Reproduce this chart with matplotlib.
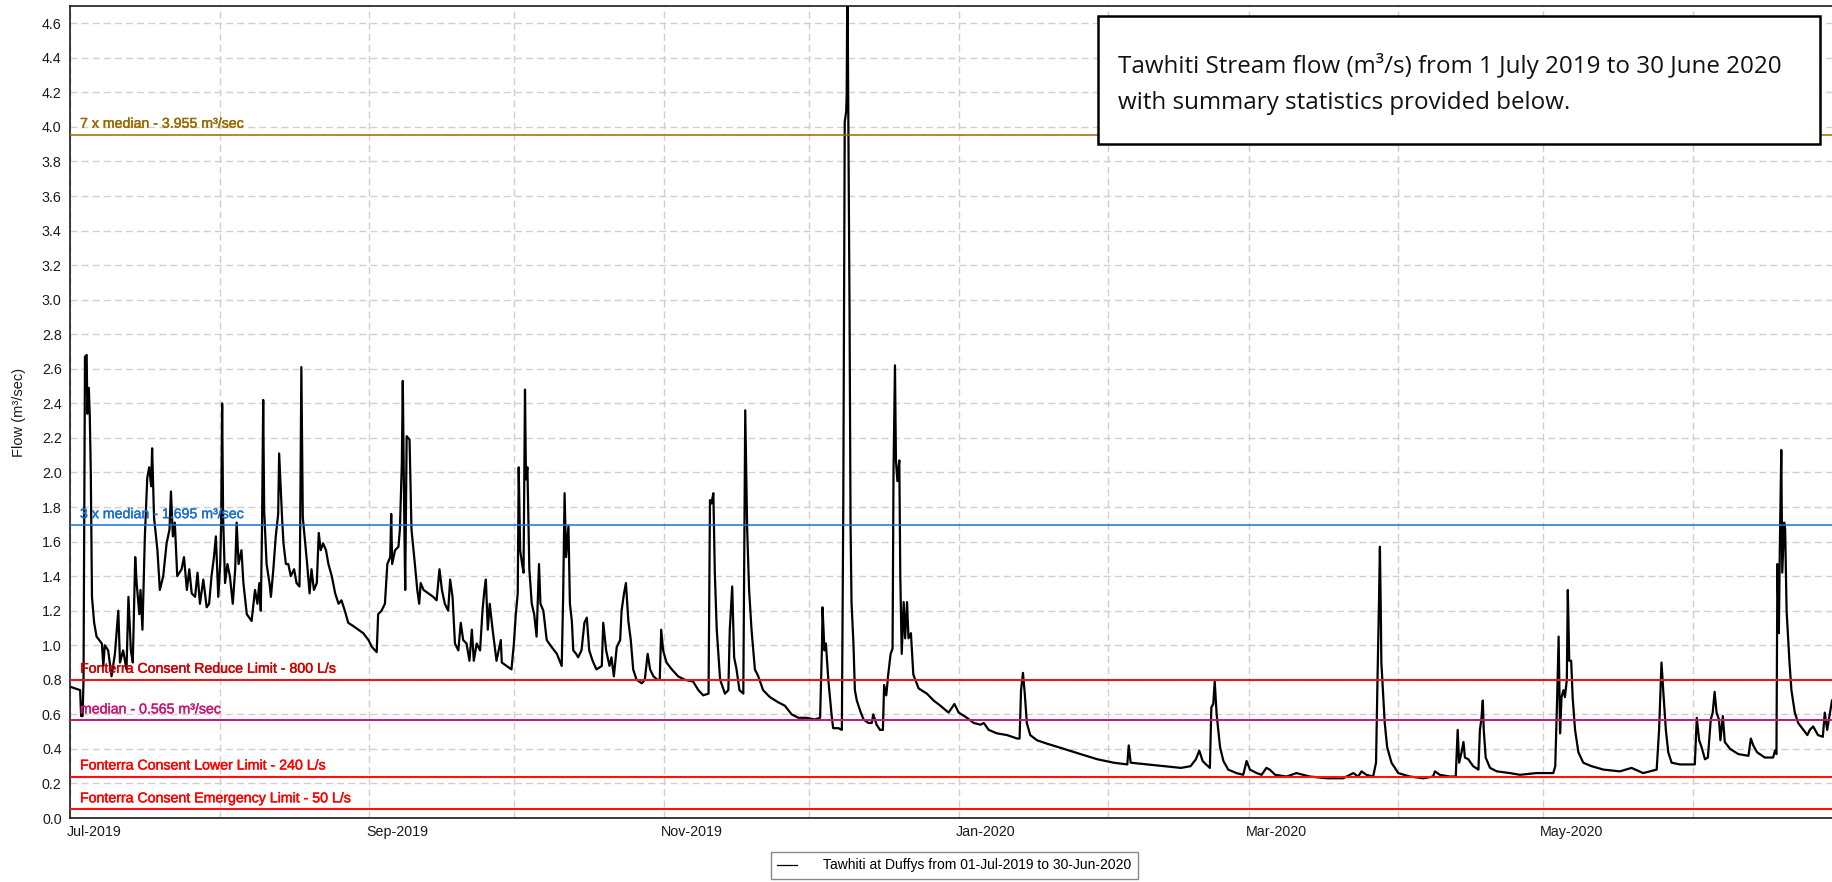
import matplotlib
matplotlib.use("Agg")
import matplotlib.pyplot as plt
import matplotlib.dates as mdates
import matplotlib.transforms as mtransforms
import matplotlib.patheffects as pe
from matplotlib.lines import Line2D
from matplotlib.patches import Rectangle
import pandas as pd
import numpy as np

# ---------------- data ----------------
start_date = "2019-07-01"
# days since 1 July 2019
day_offset = [
    0, 2.1, 2.3, 2.6, 2.8, 3.1, 3.45, 3.6, 3.9, 4.1, 4.3, 4.55, 5.0, 5.5, 6.6, 6.9, 7.2, 7.9, 8.6, 9.3,
    10.0, 10.35, 11.0, 11.7, 12.1, 12.6, 13.0, 13.5, 13.8, 14.35, 14.6, 15.0, 15.5, 16.0, 16.4, 16.8, 17.0,
    17.4, 18.1, 18.6, 19.3, 20.0, 20.6, 20.9, 21.3, 21.7, 22.2, 23.1, 23.6, 24.2, 24.7, 25.2, 25.9, 26.4,
    26.9, 27.6, 28.3, 28.8, 29.3, 29.8, 30.2, 30.7, 31.1, 31.3, 31.5, 31.7, 32.1, 32.6, 33.1, 33.7, 34.2,
    34.5, 34.9, 35.5, 35.9, 36.6, 37.6, 38.3, 38.8, 39.2, 39.5, 39.75, 40.0, 40.2, 40.7, 41.3, 41.6, 42.1,
    42.6, 43.1, 43.3, 43.6, 43.9, 44.2, 44.7, 45.2, 45.7, 46.4, 46.9, 47.5, 47.6, 47.9, 48.2, 48.7, 49.1,
    49.6, 50.0, 50.5, 51.1, 51.5, 51.9, 52.4, 53.0, 53.5, 54.2, 54.9, 55.6, 56.2, 56.9, 57.6, 58.7, 59.7,
    60.7, 61.8, 62.5, 63.5, 63.8, 64.5, 65.2, 65.7, 66.3, 66.5, 66.7, 67.3, 68.0, 68.3, 68.7, 68.9, 69.2,
    69.4, 69.7, 70.3, 70.7, 71.4, 71.9, 72.3, 72.6, 73.2, 74.2, 75.2, 75.9, 76.5, 77.0, 77.6, 78.3, 78.7,
    79.2, 79.7, 80.4,
    80.9, 81.4, 82.1, 82.7, 83.2, 83.6, 84.2, 84.9, 85.4, 85.8, 86.1, 86.5, 86.9, 87.5, 88.3, 89.2, 89.4,
    90.4, 91.4, 91.9, 92.3, 92.7, 92.9, 93.2, 93.6, 93.9, 94.2, 94.4, 94.7, 95.1, 95.6, 96.1, 96.6, 97.1,
    97.4, 98.0, 98.7, 99.7, 100.8, 101.8, 102.1, 102.4, 102.7, 103.2, 103.5, 103.9, 104.2, 104.8, 105.2,
    105.9, 106.5, 107.0, 107.5, 108.2, 109.0, 110.1, 110.4, 111.0, 111.7, 112.1, 112.6, 113.2, 113.9,
    114.2, 114.7, 115.1, 115.6, 116.1, 116.6, 117.3, 118.4, 119.0, 119.6, 120.1, 120.8, 121.6, 122.1,
    122.4, 122.8, 123.5, 124.6, 125.9, 127.3, 129.0, 130.1, 131.1, 132.2, 132.5, 132.8, 133.2, 133.5,
    133.9, 134.6, 135.6, 136.3, 136.6, 137.1, 137.5, 138.0, 138.6, 139.4, 139.8, 140.2, 140.6, 141.1,
    141.8, 142.5, 143.5, 144.9, 146.6, 148.0, 149.4, 150.8, 152.5, 154.2, 155.3, 155.7, 155.8, 156.2,
    156.5, 157.0, 157.7,
    158.0, 159.1, 159.8, 160.1, 160.4, 160.7, 160.8, 160.95, 161.2, 161.4, 161.6, 161.8, 162.2, 162.5,
    162.9, 163.6, 164.3, 165.3, 166.0, 166.3, 167.0, 167.7, 168.3, 168.55, 169.0, 169.4, 169.9, 170.3,
    170.5, 170.8, 171.0, 171.3, 171.7, 171.9, 172.2, 172.6, 172.9, 173.3, 173.6, 174.1, 174.6, 175.7,
    177.4, 178.8, 180.2, 181.9, 183.1, 184.0, 185.7, 187.1, 188.5, 189.2, 190.2, 191.9, 194.0, 196.1,
    196.6, 196.9, 197.3, 197.7, 198.1, 198.8, 200.2, 202.3, 205.8, 209.2, 212.7, 216.1, 218.9, 219.2,
    219.6, 223.0, 226.5, 230.0, 232.0, 233.1, 233.8, 234.5, 235.2, 236.0,
    236.3, 236.7, 237.0, 237.4, 238.1, 238.8, 239.8, 241.5, 242.9, 243.6, 244.3, 245.7, 246.7, 247.7,
    248.4, 249.5, 251.9, 253.9, 256.7, 260.2, 263.6, 265.7, 266.7, 267.4, 268.4, 269.8, 270.4, 270.7,
    271.0, 271.2, 271.4, 271.5, 271.9, 272.2, 272.7, 273.6, 275.0, 277.4, 280.2, 282.2, 282.6, 283.6,
    285.7, 286.9, 287.3, 287.6, 288.1, 288.5, 288.8, 289.5, 290.5, 291.6, 291.9, 292.2, 292.5, 292.7,
    293.1, 294.0, 295.4, 298.1,
    300.2, 303.6, 307.1, 307.5, 307.9, 308.2, 308.5, 308.8, 309.2, 309.5, 309.9, 310.1, 310.4, 310.8,
    311.1, 311.6, 312.3, 313.3, 315.0, 317.5, 320.9, 323.3, 325.7, 328.5, 329.0, 329.5, 329.9, 330.4,
    330.9, 331.6, 333.3, 336.4, 336.8, 337.3, 337.8, 338.5, 339.1, 339.7, 340.1, 340.5, 340.9, 341.4,
    341.7, 342.2, 342.6, 343.7, 345.4, 347.5, 348.0, 348.5, 349.3, 350.9, 352.6, 353.0, 353.3, 353.5,
    353.8, 354.0, 354.3, 354.5, 354.9, 355.1, 355.4, 356.0, 356.4, 357.1, 357.8, 358.9, 359.7, 360.2,
    360.9, 361.9, 362.9, 363.3, 363.8, 364.4, 364.8,
]
flow = [
    0.76, 0.74, 0.59, 0.59, 0.80, 2.67, 2.68, 2.34, 2.49, 2.32, 2.01, 1.28, 1.13, 1.05, 1.01, 0.88, 1.00, 0.97, 0.82, 0.95,
    1.20, 0.90, 0.97, 0.86, 1.28, 0.97, 0.90, 1.51, 1.36, 1.18, 1.32, 1.09, 1.63, 1.97, 2.03, 1.92, 2.14,
    1.74, 1.55, 1.32, 1.40, 1.59, 1.67, 1.89, 1.63, 1.71, 1.40, 1.44, 1.51, 1.32, 1.44, 1.30, 1.28, 1.42,
    1.24, 1.38, 1.22, 1.24, 1.40, 1.51, 1.63, 1.28, 1.47, 1.71, 2.40, 1.74, 1.36, 1.47, 1.40, 1.24, 1.44,
    1.71, 1.47, 1.55, 1.36, 1.18, 1.14, 1.32, 1.24, 1.36, 1.20, 1.67, 2.42, 1.78, 1.47, 1.36, 1.28, 1.44,
    1.63, 1.76, 2.11, 1.92, 1.74, 1.59, 1.47, 1.47, 1.40, 1.44, 1.36, 1.34, 1.47, 2.61, 1.74, 1.59, 1.47,
    1.30, 1.44, 1.32, 1.36, 1.65, 1.55, 1.59, 1.55, 1.47, 1.40, 1.30, 1.24, 1.26, 1.20, 1.13, 1.11, 1.09,
    1.07, 1.03, 0.99, 0.96, 1.18, 1.20, 1.24, 1.47, 1.51, 1.76, 1.47, 1.55, 1.57, 1.67, 2.05, 2.53, 1.74,
    1.32, 2.21, 2.19, 1.67, 1.47, 1.32, 1.24, 1.36, 1.32, 1.30, 1.28, 1.26, 1.44, 1.32, 1.24, 1.20, 1.38,
    1.28, 1.01, 0.97,
    1.13, 1.03, 1.01, 0.91, 1.09, 0.91, 1.01, 0.97, 1.20, 1.32, 1.38, 1.09, 1.24, 1.09, 0.91, 1.03, 0.90,
    0.88, 0.86, 1.01, 1.18, 1.30, 2.03, 1.55, 1.47, 1.42, 2.48, 1.96, 2.03, 1.44, 1.24, 1.18, 1.05, 1.47,
    1.24, 1.20, 1.03, 0.99, 0.95, 0.88, 1.28, 1.88, 1.51, 1.69, 1.24, 1.14, 0.97, 0.95, 0.93,
    0.97, 1.13, 1.16, 0.97, 0.91, 0.86, 0.88, 1.13, 0.97, 0.88, 0.93, 0.82, 0.99, 1.03,
    1.20, 1.30, 1.36, 1.14, 1.03, 0.86, 0.80, 0.78, 0.80, 0.95, 0.86, 0.82, 0.80, 0.80,
    1.09, 0.97, 0.90, 0.86, 0.82, 0.80, 0.79, 0.74, 0.71, 0.72, 1.84, 1.82, 1.88, 1.42,
    1.09, 0.80, 0.72, 0.74, 1.09, 1.34, 0.93, 0.86, 0.74, 0.72, 2.36, 1.67, 1.32, 1.09,
    0.86, 0.82, 0.74, 0.70, 0.67, 0.65, 0.60, 0.58, 0.58, 0.57, 0.58, 1.01, 1.22, 0.97,
    1.01, 0.80, 0.59,
    0.52, 0.52, 0.51, 1.82, 4.03, 4.09, 4.18, 4.90, 3.82, 2.91, 1.70, 1.25, 1.01, 0.74,
    0.68, 0.62, 0.57, 0.55, 0.55, 0.60, 0.54, 0.51, 0.51, 0.77, 0.71, 0.83, 0.95, 0.98,
    2.01, 2.62, 2.07, 1.95, 2.07, 1.40, 0.95, 1.25, 1.04, 1.25, 1.04, 1.07, 0.83, 0.75,
    0.72, 0.68, 0.65, 0.61, 0.66, 0.61, 0.58, 0.55, 0.54, 0.55, 0.51, 0.49, 0.48, 0.46,
    0.46, 0.74, 0.84, 0.71, 0.55, 0.48, 0.45, 0.43, 0.40, 0.37, 0.34, 0.32, 0.31, 0.42,
    0.32, 0.31, 0.30, 0.29, 0.30, 0.34, 0.39, 0.33, 0.31, 0.29,
    0.64, 0.66, 0.79, 0.60, 0.41, 0.33, 0.28, 0.26, 0.25, 0.33, 0.28, 0.26, 0.25, 0.29,
    0.28, 0.25, 0.24, 0.26, 0.24, 0.23, 0.23, 0.26, 0.24, 0.27, 0.25, 0.24, 0.32, 0.80,
    1.24, 1.57, 1.16, 0.90, 0.70, 0.55, 0.41, 0.32, 0.26, 0.24, 0.23, 0.24, 0.27, 0.25,
    0.24, 0.24, 0.51, 0.32, 0.38, 0.44, 0.35, 0.34, 0.30, 0.28, 0.51, 0.57, 0.68, 0.51,
    0.35, 0.29, 0.27, 0.26,
    0.25, 0.26, 0.26, 0.30, 0.70, 1.05, 0.49, 0.70, 0.74, 0.70, 0.80, 1.32, 0.91, 0.91,
    0.70, 0.51, 0.38, 0.32, 0.30, 0.28, 0.27, 0.29, 0.26, 0.28, 0.51, 0.90, 0.72, 0.51,
    0.38, 0.32, 0.31, 0.31, 0.58, 0.45, 0.41, 0.34, 0.35, 0.57, 0.61, 0.73, 0.61, 0.57,
    0.45, 0.59, 0.44, 0.40, 0.37, 0.36, 0.46, 0.42, 0.38, 0.35, 0.35, 0.39, 0.37, 1.47,
    1.07, 1.57, 2.13, 1.42, 1.71, 1.67, 1.20, 0.90, 0.74, 0.61, 0.55, 0.51, 0.48, 0.51,
    0.53, 0.48, 0.47, 0.61, 0.51, 0.61, 0.68,
]

threshold_values = [3.955, 1.695, 0.8, 0.565, 0.24, 0.05]
threshold_labels = [
    "7 x median - 3.955 m³/sec",
    "3 x median - 1.695 m³/sec",
    "Fonterra Consent Reduce Limit - 800 L/s",
    "median - 0.565 m³/sec",
    "Fonterra Consent Lower Limit - 240 L/s",
    "Fonterra Consent Emergency Limit - 50 L/s",
]
threshold_colors = ["#9A6A00", "#1E6FD0", "#E21A1A", "#CC1473", "#FF1010", "#FF1010"]
threshold_label_colors = ["#9A6A00", "#1E6FD0", "#D00000", "#CC1473", "#FF0000", "#FF0000"]
threshold_widths = [1.1, 1.1, 1.5, 1.4, 1.5, 1.5]

legend_label = "Tawhiti at Duffys from 01-Jul-2019 to 30-Jun-2020"
y_label = "Flow (m³/sec)"
box_lines = ["Tawhiti Stream flow (m³/s) from 1 July 2019 to 30 June 2020",
             "with summary statistics provided below."]

# ---------------- figure ----------------
W, H = 1832, 882
fig = plt.figure(figsize=(W / 100, H / 100), dpi=100)
ax = fig.add_axes([70 / W, 1 - 818 / H, 1 - 70 / W, (818 - 6) / H])

t0 = pd.Timestamp(start_date)
dates = t0 + pd.to_timedelta(np.array(day_offset), unit="D")
ax.plot(dates, flow, color="black", lw=1.6, zorder=3)

for val, lab, c, lc, lw in zip(threshold_values, threshold_labels, threshold_colors,
                               threshold_label_colors, threshold_widths):
    ax.axhline(val, color=c, lw=lw, zorder=4)
    ax.annotate(lab, xy=(0, val), xycoords=ax.get_yaxis_transform(),
                xytext=(10, 4), textcoords="offset pixels", ha="left", va="bottom",
                color=lc, fontsize=10.2, family="Liberation Sans", zorder=5,
                path_effects=[pe.withStroke(linewidth=0.3, foreground=lc)])

ax.set_xlim(t0, t0 + pd.Timedelta(days=364.8))
ax.set_ylim(0, 4.7)
ax.set_yticks(np.arange(0, 4.61, 0.2))
ax.yaxis.set_major_formatter(matplotlib.ticker.FormatStrFormatter("%.1f"))

ax.xaxis.set_major_locator(mdates.MonthLocator(bymonth=[1, 3, 5, 7, 9, 11]))
ax.xaxis.set_minor_locator(mdates.MonthLocator())
ax.xaxis.set_major_formatter(mdates.DateFormatter("%b-%Y"))

ax.grid(True, which="both", axis="x", color="#CFCFCF", lw=1.0, linestyle=(0, (5, 3)), zorder=1)
ax.grid(True, which="major", axis="y", color="#CFCFCF", lw=1.0, linestyle=(0, (5, 3)), zorder=1)
ax.set_axisbelow(True)

ax.tick_params(axis="both", which="both", length=0, labelsize=10.3, labelcolor="#1A1A1A")
ax.tick_params(axis="y", pad=6)
ax.tick_params(axis="x", pad=5)
for lbl in ax.get_yticklabels() + ax.get_xticklabels():
    lbl.set_family("Liberation Sans")
offset = mtransforms.ScaledTranslation(-3 / 100, 0, fig.dpi_scale_trans)
for lbl in ax.get_xticklabels():
    lbl.set_ha("left")
    lbl.set_transform(lbl.get_transform() + offset)

ax.set_ylabel(y_label, fontsize=10.5, family="Liberation Sans", color="#1A1A1A")
ax.yaxis.set_label_coords(-(70 - 26) / (W - 70), 0.5)

for s in ["left", "bottom", "top"]:
    ax.spines[s].set_color("#1A1A1A")
    ax.spines[s].set_linewidth(1.2)
ax.spines["right"].set_visible(False)

# text box
bx0, by0, bx1, by1 = 1098, 16, 1820, 144
fig.patches.append(Rectangle((bx0 / W, 1 - by1 / H), (bx1 - bx0) / W, (by1 - by0) / H,
                             transform=fig.transFigure, facecolor="white", edgecolor="black",
                             lw=1.8, zorder=10))
fig.text(1118 / W, 1 - 66 / H, box_lines[0], ha="left", va="center", fontsize=17.4,
         family="Open Sans", color="#111111", zorder=11)
fig.text(1118 / W, 1 - 103 / H, box_lines[1], ha="left", va="center", fontsize=17.4,
         family="Open Sans", color="#111111", zorder=11)

# legend
handle = Line2D([], [], color="black", lw=0.9)
fig.legend([handle], [legend_label], loc="center", bbox_to_anchor=(954.5 / W, 1 - 865.5 / H),
           fancybox=False, edgecolor="#888888", framealpha=1,
           prop={"family": "Liberation Sans", "size": 10},
           handlelength=1.4, handletextpad=1.9, borderpad=0.45)

fig.savefig("out.png", dpi=100)
